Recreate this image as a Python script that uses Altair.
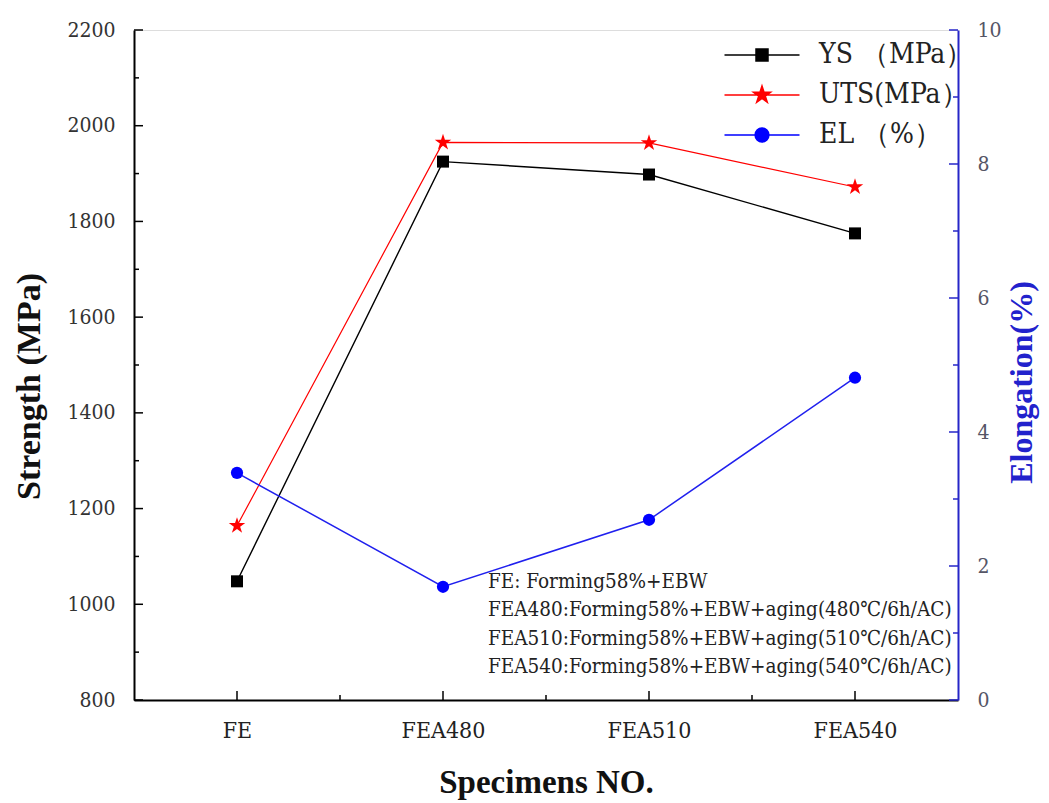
import json
import altair as alt
import pandas as pd

# ---------------- data ----------------
specimens = ["FE", "FEA480", "FEA510", "FEA540"]
positions = [0, 1, 2, 3]
ys_values = [1048, 1925, 1898, 1775]
uts_values = [1164, 1965, 1964, 1872]
el_values = [3.39, 1.69, 2.69, 4.81]

legend_labels = ["YS （MPa）", "UTS(MPa）", "EL （%）"]
series_colors = ["#000000", "#ff0000", "#0000ff"]

strength_ticks = [800, 1000, 1200, 1400, 1600, 1800, 2000, 2200]
strength_minor = [900, 1100, 1300, 1500, 1700, 1900, 2100]
elong_ticks = [0, 2, 4, 6, 8, 10]
elong_minor = [1, 3, 5, 7, 9]
x_minor = [0.5, 1.5, 2.5]

notes = [
    "FE: Forming58%+EBW",
    "FEA480:Forming58%+EBW+aging(480℃/6h/AC)",
    "FEA510:Forming58%+EBW+aging(510℃/6h/AC)",
    "FEA540:Forming58%+EBW+aging(540℃/6h/AC)",
]

# ---------------- styles ----------------
W, H = 824, 670
REG = "DejaVu Serif Condensed, DejaVu Serif"
SERIF_B = "Liberation Serif"
AXIS_BLUE = "#2626c8"


def star_scaled(k):
    pts = [(0, -1), (0.225, -0.309), (0.951, -0.309), (0.363, 0.118), (0.588, 0.809),
           (0, 0.382), (-0.588, 0.809), (-0.363, 0.118), (-0.951, -0.309), (-0.225, -0.309)]
    return "M" + "L".join(f"{x * k:.3f},{y * k:.3f}" for x, y in pts) + "Z"


STAR = star_scaled(1)
LINE = "M-6.25,0H6.25"
legend_paths = [
    LINE + "M-1,-1H1V1H-1Z",
    LINE + star_scaled(1.5),
    LINE + "M-1.15,0A1.15,1.15,0,1,0,1.15,0A1.15,1.15,0,1,0,-1.15,0Z",
]

label_expr = json.dumps(specimens) + "[datum.value]"

x_enc = alt.X(
    "idx:Q",
    scale=alt.Scale(domain=[-0.5, 3.5], nice=False, zero=False),
    axis=alt.Axis(
        values=positions, labelExpr=label_expr, title="Specimens NO.",
        ticks=False, tickSize=0, grid=False, domainColor="#000000", domainWidth=2,
        labelFont=REG, labelFontSize=23, labelColor="#222222", labelPadding=37,
        labelBaseline="alphabetic",
        titleFont=SERIF_B, titleFontSize=33, titleFontWeight="bold", titleColor="#111111",
        titleBaseline="alphabetic", titleY=92,
    ),
)

y_left = alt.Y(
    "value:Q",
    scale=alt.Scale(domain=[800, 2200], nice=False, zero=False),
    axis=alt.Axis(
        values=strength_ticks, format="d", title="Strength (MPa)", ticks=False, tickSize=0,
        grid=False, domainColor="#000000", domainWidth=2,
        labelFont=REG, labelFontSize=21, labelColor="#333333", labelPadding=19,
        titleFont=SERIF_B, titleFontSize=34, titleFontWeight="bold", titleColor="#111111",
        titlePadding=20, titleY=356,
    ),
)

y_right = alt.Y(
    "value:Q",
    scale=alt.Scale(domain=[0, 10], nice=False, zero=False),
    axis=alt.Axis(
        orient="right", values=elong_ticks, format="d", title="Elongation(%)", ticks=False,
        tickSize=0, grid=False, domainColor=AXIS_BLUE, domainWidth=2,
        labelFont=REG, labelFontSize=21, labelColor="#555566", labelPadding=19,
        titleFont=SERIF_B, titleFontSize=32, titleFontWeight="bold", titleColor="#2222cc",
        titlePadding=5, titleAngle=270, titleBaseline="top", titleY=352,
    ),
)

ys_df = pd.DataFrame({"idx": positions, "value": ys_values})
uts_df = pd.DataFrame({"idx": positions, "value": uts_values})
el_df = pd.DataFrame({"idx": positions, "value": el_values})

ys_line = alt.Chart(ys_df).mark_line(color="#000000", strokeWidth=1.4).encode(x=x_enc, y=y_left)
ys_pts = alt.Chart(ys_df).mark_point(shape="square", filled=True, size=144, color="#000000",
                                     opacity=1).encode(x=x_enc, y=y_left)
uts_line = alt.Chart(uts_df).mark_line(color="#ff0000", strokeWidth=1.2).encode(x=x_enc, y=y_left)
uts_pts = alt.Chart(uts_df).mark_point(shape=STAR, filled=True, size=300, color="#ff0000",
                                       opacity=1).encode(x=x_enc, y=y_left)
el_line = alt.Chart(el_df).mark_line(color="#2020ee", strokeWidth=1.5).encode(x=x_enc, y=y_right)
el_pts = alt.Chart(el_df).mark_point(shape="circle", filled=True, size=150, color="#0000ff",
                                     opacity=1).encode(x=x_enc, y=y_right)

# inward ticks
left_major = alt.Chart(pd.DataFrame({"value": strength_ticks})).mark_rule(
    color="#000000", strokeWidth=1.5).encode(y=y_left, x=alt.value(0), x2=alt.value(9))
left_minor = alt.Chart(pd.DataFrame({"value": strength_minor})).mark_rule(
    color="#000000", strokeWidth=1.5).encode(y=y_left, x=alt.value(0), x2=alt.value(5))
bottom_major = alt.Chart(pd.DataFrame({"idx": positions})).mark_rule(
    color="#000000", strokeWidth=1.5).encode(x=x_enc, y=alt.value(H), y2=alt.value(H - 9))
bottom_minor = alt.Chart(pd.DataFrame({"idx": x_minor})).mark_rule(
    color="#000000", strokeWidth=1.5).encode(x=x_enc, y=alt.value(H), y2=alt.value(H - 5))
right_major = alt.Chart(pd.DataFrame({"value": elong_ticks})).mark_rule(
    color=AXIS_BLUE, strokeWidth=1.5).encode(y=y_right, x=alt.value(W), x2=alt.value(W - 9))
right_minor = alt.Chart(pd.DataFrame({"value": elong_minor})).mark_rule(
    color=AXIS_BLUE, strokeWidth=1.5).encode(y=y_right, x=alt.value(W), x2=alt.value(W - 5))

# annotation block
notes_text = alt.Chart(pd.DataFrame({"t": ["\n".join(notes)]})).mark_text(
    align="left", baseline="alphabetic", font=REG, fontSize=20.5, color="#222222",
    lineBreak="\n", lineHeight=28.3,
).encode(text="t:N", x=alt.value(354), y=alt.value(558))

# legend (drawn by the library from scales)
leg_kwargs = dict(
    title=None, orient="none", legendX=614, legendY=11, padding=0,
    labelFont=REG, labelFontSize=28, labelColor="#222222", labelOffset=43,
    symbolSize=144, symbolStrokeWidth=1.5, symbolOpacity=1, rowPadding=12,
)
legend_df = pd.DataFrame({"series": legend_labels, "idx": [0, 1, 2]})
legend_layer = alt.Chart(legend_df).mark_point(opacity=0, filled=True).encode(
    x=x_enc,
    y=alt.value(0),
    fill=alt.Fill("series:N", scale=alt.Scale(domain=legend_labels, range=series_colors),
                  legend=alt.Legend(**leg_kwargs)),
    stroke=alt.Stroke("series:N", scale=alt.Scale(domain=legend_labels, range=series_colors),
                      legend=alt.Legend(**leg_kwargs)),
    shape=alt.Shape("series:N", scale=alt.Scale(domain=legend_labels, range=legend_paths),
                    legend=alt.Legend(**leg_kwargs)),
)

left = alt.layer(ys_line, uts_line, left_major, left_minor, bottom_major, bottom_minor,
                 notes_text, ys_pts, uts_pts, legend_layer)
right = alt.layer(el_line, right_major, right_minor, el_pts)

chart = alt.layer(left, right).resolve_scale(y="independent").properties(
    width=W, height=H,
    autosize=alt.AutoSizeParams(type="none"),
    padding={"left": 126, "top": 22, "right": 83, "bottom": 103},
).configure_view(stroke="#000000", strokeWidth=2).configure(background="#ffffff")

chart.save("out.html", embed_options={"renderer": "svg", "actions": False})
